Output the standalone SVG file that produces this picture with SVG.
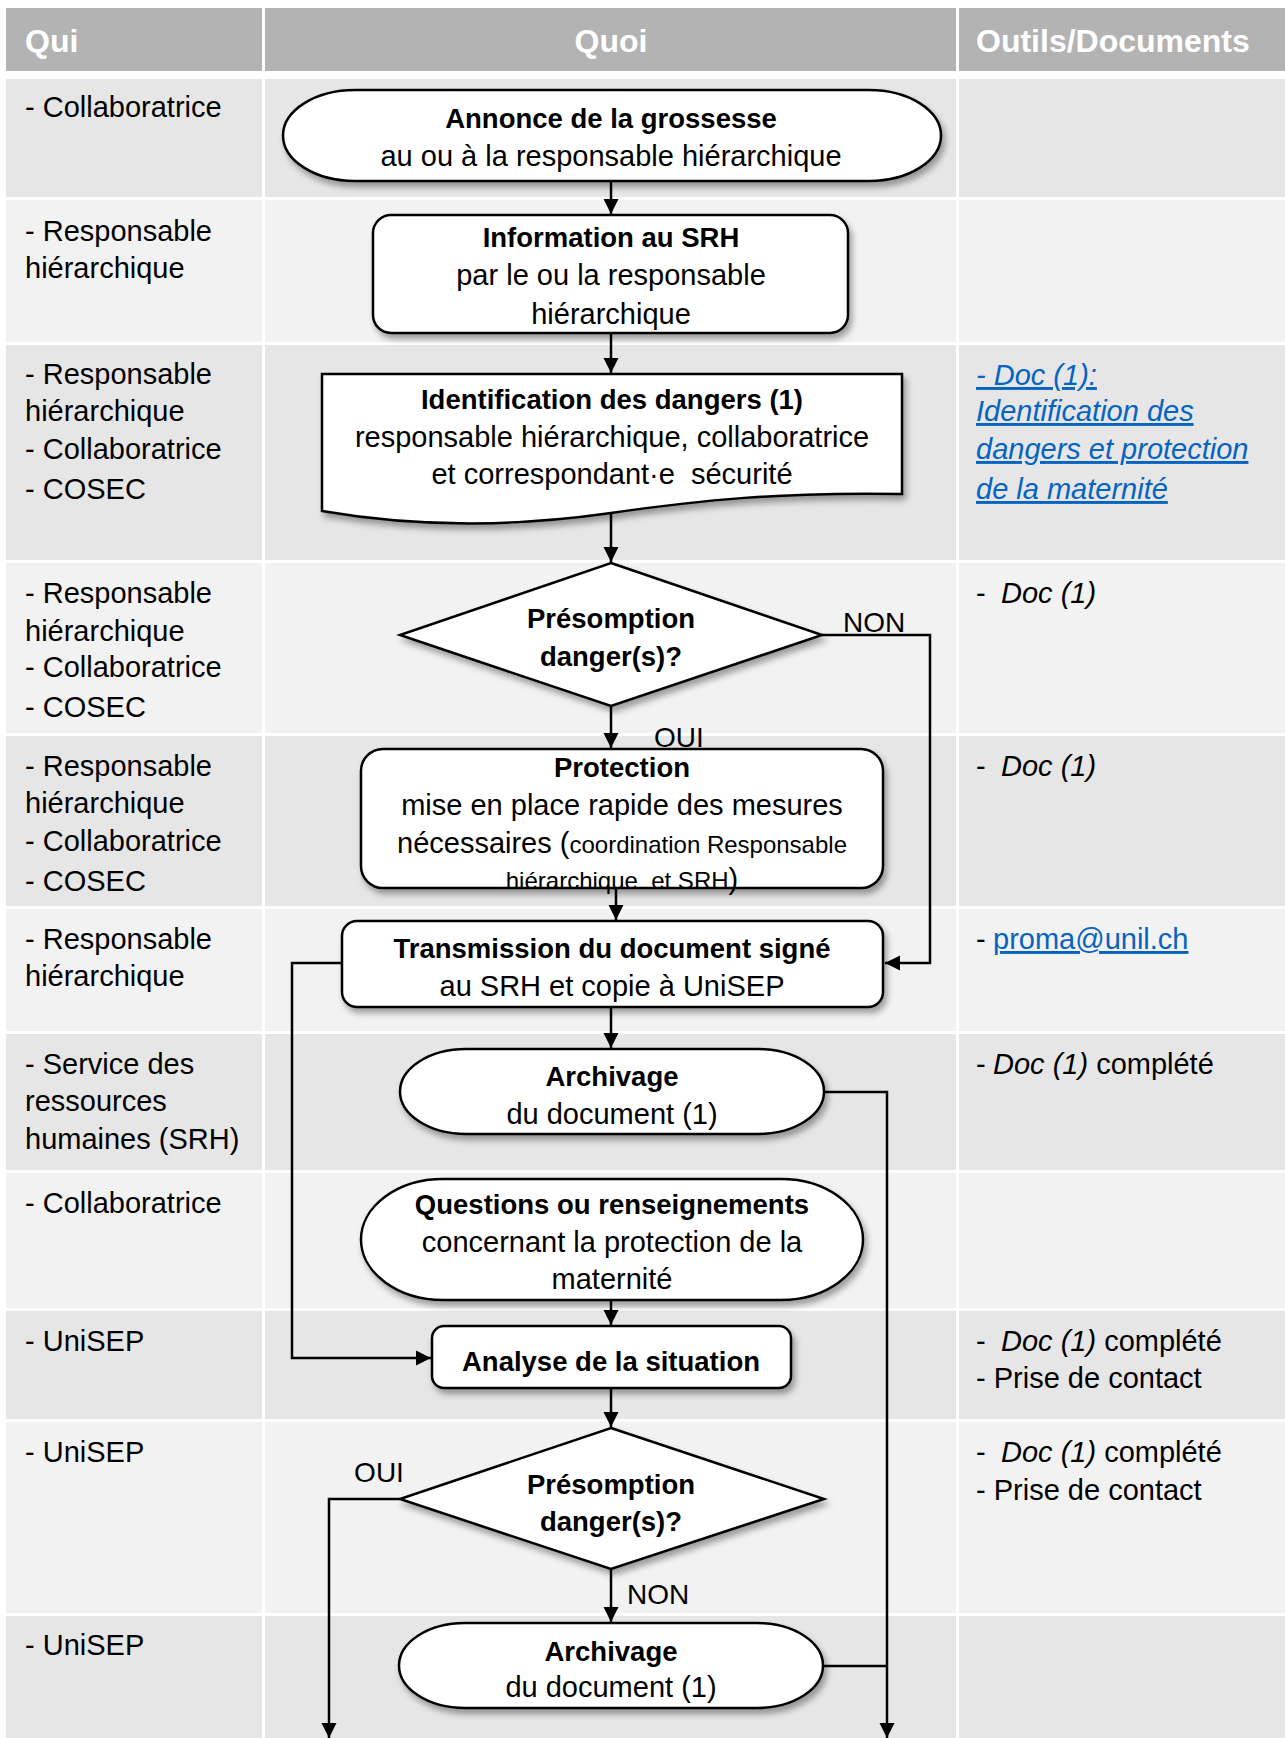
<svg xmlns="http://www.w3.org/2000/svg" width="1285" height="1738" viewBox="0 0 1285 1738">
<style>
text{font-family:"Liberation Sans",Arial,sans-serif;font-size:29px;fill:#000}
.b{font-weight:bold;font-size:27.5px}
.c{text-anchor:middle}
.hd{fill:#fff;font-weight:bold;font-size:32px}
.s{font-size:24px}
.i{font-style:italic}
.lnk{fill:#0563c1;text-decoration:underline}
.lbl{font-size:28px}
.hdr{fill:#b3b3b3}
.dk{fill:#e6e6e6}
.lt{fill:#f2f2f2}
.node{fill:#fff;stroke:#000;stroke-width:2.5;filter:url(#sh)}
.conn{fill:none;stroke:#000;stroke-width:2.5}
</style>
<defs>
<filter id="sh" x="-10%" y="-10%" width="130%" height="150%">
<feDropShadow dx="3" dy="5" stdDeviation="3" flood-color="#000" flood-opacity="0.35"/>
</filter>
<marker id="ar" markerUnits="userSpaceOnUse" markerWidth="16" markerHeight="16" viewBox="0 0 16 16" refX="15" refY="8" orient="auto">
<path d="M0,0.5 L15,8 L0,15.5 z" fill="#000"/>
</marker>
</defs>
<rect width="1285" height="1738" fill="#fff"/>
<g id="table">
<rect class="hdr" x="6" y="8" width="256" height="63"/>
<rect class="hdr" x="265" y="8" width="691" height="63"/>
<rect class="hdr" x="959" y="8" width="326" height="63"/>
<text class="hd" x="25" y="52">Qui</text>
<text class="hd c" x="611" y="52">Quoi</text>
<text class="hd" x="976" y="52">Outils/Documents</text>
<g class="dk">
<rect x="6" y="79" width="256" height="118"/><rect x="265" y="79" width="691" height="118"/><rect x="959" y="79" width="326" height="118"/>
<rect x="6" y="345" width="256" height="215"/><rect x="265" y="345" width="691" height="215"/><rect x="959" y="345" width="326" height="215"/>
<rect x="6" y="736" width="256" height="170"/><rect x="265" y="736" width="691" height="170"/><rect x="959" y="736" width="326" height="170"/>
<rect x="6" y="1034" width="256" height="136"/><rect x="265" y="1034" width="691" height="136"/><rect x="959" y="1034" width="326" height="136"/>
<rect x="6" y="1311" width="256" height="108"/><rect x="265" y="1311" width="691" height="108"/><rect x="959" y="1311" width="326" height="108"/>
<rect x="6" y="1616" width="256" height="122"/><rect x="265" y="1616" width="691" height="122"/><rect x="959" y="1616" width="326" height="122"/>
</g>
<g class="lt">
<rect x="6" y="200" width="256" height="142"/><rect x="265" y="200" width="691" height="142"/><rect x="959" y="200" width="326" height="142"/>
<rect x="6" y="563" width="256" height="170"/><rect x="265" y="563" width="691" height="170"/><rect x="959" y="563" width="326" height="170"/>
<rect x="6" y="909" width="256" height="122"/><rect x="265" y="909" width="691" height="122"/><rect x="959" y="909" width="326" height="122"/>
<rect x="6" y="1173" width="256" height="135"/><rect x="265" y="1173" width="691" height="135"/><rect x="959" y="1173" width="326" height="135"/>
<rect x="6" y="1422" width="256" height="191"/><rect x="265" y="1422" width="691" height="191"/><rect x="959" y="1422" width="326" height="191"/>
</g>
</g>
<g id="qui">
<text x="25" y="117">- Collaboratrice</text>
<text x="25" y="241">- Responsable</text>
<text x="25" y="278">hiérarchique</text>
<text x="25" y="384">- Responsable</text>
<text x="25" y="421">hiérarchique</text>
<text x="25" y="459">- Collaboratrice</text>
<text x="25" y="499">- COSEC</text>
<text x="25" y="603">- Responsable</text>
<text x="25" y="641">hiérarchique</text>
<text x="25" y="677">- Collaboratrice</text>
<text x="25" y="717">- COSEC</text>
<text x="25" y="776">- Responsable</text>
<text x="25" y="813">hiérarchique</text>
<text x="25" y="851">- Collaboratrice</text>
<text x="25" y="891">- COSEC</text>
<text x="25" y="949">- Responsable</text>
<text x="25" y="986">hiérarchique</text>
<text x="25" y="1074">- Service des</text>
<text x="25" y="1111">ressources</text>
<text x="25" y="1149">humaines (SRH)</text>
<text x="25" y="1213">- Collaboratrice</text>
<text x="25" y="1351">- UniSEP</text>
<text x="25" y="1462">- UniSEP</text>
<text x="25" y="1655">- UniSEP</text>
</g>
<g id="outils">
<text class="i lnk" x="976" y="385">- Doc (1):</text>
<text class="i lnk" x="976" y="421">Identification des</text>
<text class="i lnk" x="976" y="459">dangers et protection</text>
<text class="i lnk" x="976" y="499">de la maternité</text>
<text x="976" y="603">-<tspan class="i" x="1001">Doc (1)</tspan></text>
<text x="976" y="776">-<tspan class="i" x="1001">Doc (1)</tspan></text>
<text x="976" y="949">-<tspan class="lnk" x="993">proma@unil.ch</tspan></text>
<text x="976" y="1074">-<tspan class="i" x="993">Doc (1)</tspan> complété</text>
<text x="976" y="1351">-<tspan class="i" x="1001">Doc (1)</tspan> complété</text>
<text x="976" y="1388">- Prise de contact</text>
<text x="976" y="1462">-<tspan class="i" x="1001">Doc (1)</tspan> complété</text>
<text x="976" y="1500">- Prise de contact</text>
</g>
<g id="connectors">
<path class="conn" d="M611,181 V214" marker-end="url(#ar)"/>
<path class="conn" d="M611,333 V373" marker-end="url(#ar)"/>
<path class="conn" d="M611,513 V562" marker-end="url(#ar)"/>
<path class="conn" d="M611,706 V748" marker-end="url(#ar)"/>
<path class="conn" d="M822,635 H930 V963 H885" marker-end="url(#ar)"/>
<path class="conn" d="M616,888 V920" marker-end="url(#ar)"/>
<path class="conn" d="M611,1007 V1048" marker-end="url(#ar)"/>
<path class="conn" d="M342,963 H292 V1358 H431" marker-end="url(#ar)"/>
<path class="conn" d="M824,1092 H887 V1738" marker-end="url(#ar)"/>
<path class="conn" d="M611,1300 V1325" marker-end="url(#ar)"/>
<path class="conn" d="M611,1388 V1427" marker-end="url(#ar)"/>
<path class="conn" d="M400,1499 H329 V1738" marker-end="url(#ar)"/>
<path class="conn" d="M611,1569 V1622" marker-end="url(#ar)"/>
<path class="conn" d="M823,1666 H887"/>
<text class="lbl" x="843" y="632">NON</text>
<text class="lbl" x="654" y="747">OUI</text>
<text class="lbl c" x="379" y="1482">OUI</text>
<text class="lbl" x="627" y="1604">NON</text>
</g>
<g id="n-annonce">
<rect class="node" x="283" y="90" width="658" height="91" rx="72" ry="45.5"/>
<text class="b c" x="611" y="128">Annonce de la grossesse</text>
<text class="c" x="611" y="166">au ou à la responsable hiérarchique</text>
</g>
<g id="n-info">
<rect class="node" x="373" y="215" width="475" height="118" rx="18"/>
<text class="b c" x="611" y="247">Information au SRH</text>
<text class="c" x="611" y="285">par le ou la responsable</text>
<text class="c" x="611" y="324">hiérarchique</text>
</g>
<g id="n-identification">
<path class="node" d="M322,374 H902 V494 C780,492 700,500 611,513 C520,526 420,528 322,511 Z"/>
<text class="b c" x="612" y="409">Identification des dangers (1)</text>
<text class="c" x="612" y="447">responsable hiérarchique, collaboratrice</text>
<text class="c" x="612" y="484" xml:space="preserve">et correspondant·e  sécurité</text>
</g>
<g id="n-presomption1">
<path class="node" d="M611,563 L822,635 L611,706 L400,635 Z"/>
<text class="b c" x="611" y="628">Présomption</text>
<text class="b c" x="611" y="666">danger(s)?</text>
</g>
<g id="n-protection">
<rect class="node" x="361" y="749" width="522" height="139" rx="22"/>
<text class="b c" x="622" y="777">Protection</text>
<text class="c" x="622" y="815">mise en place rapide des mesures</text>
<text class="c" x="622" y="853">nécessaires (<tspan class="s">coordination Responsable</tspan></text>
<text class="c" x="622" y="889" xml:space="preserve"><tspan class="s">hiérarchique  et SRH</tspan>)</text>
</g>
<g id="n-transmission">
<rect class="node" x="342" y="921" width="541" height="86" rx="15"/>
<text class="b c" x="612" y="958">Transmission du document signé</text>
<text class="c" x="612" y="996">au SRH et copie à UniSEP</text>
</g>
<g id="n-archivage1">
<rect class="node" x="400" y="1049" width="424" height="85" rx="66" ry="42.5"/>
<text class="b c" x="612" y="1086">Archivage</text>
<text class="c" x="612" y="1124">du document (1)</text>
</g>
<g id="n-questions">
<rect class="node" x="361" y="1179" width="502" height="121" rx="82" ry="60.5"/>
<text class="b c" x="612" y="1214">Questions ou renseignements</text>
<text class="c" x="612" y="1252">concernant la protection de la</text>
<text class="c" x="612" y="1289">maternité</text>
</g>
<g id="n-analyse">
<rect class="node" x="432" y="1326" width="359" height="62" rx="12"/>
<text class="b c" x="611" y="1371">Analyse de la situation</text>
</g>
<g id="n-presomption2">
<path class="node" d="M611,1428 L824,1499 L611,1569 L400,1499 Z"/>
<text class="b c" x="611" y="1494">Présomption</text>
<text class="b c" x="611" y="1531">danger(s)?</text>
</g>
<g id="n-archivage2">
<rect class="node" x="399" y="1623" width="424" height="85" rx="66" ry="42.5"/>
<text class="b c" x="611" y="1661">Archivage</text>
<text class="c" x="611" y="1697">du document (1)</text>
</g>
</svg>
